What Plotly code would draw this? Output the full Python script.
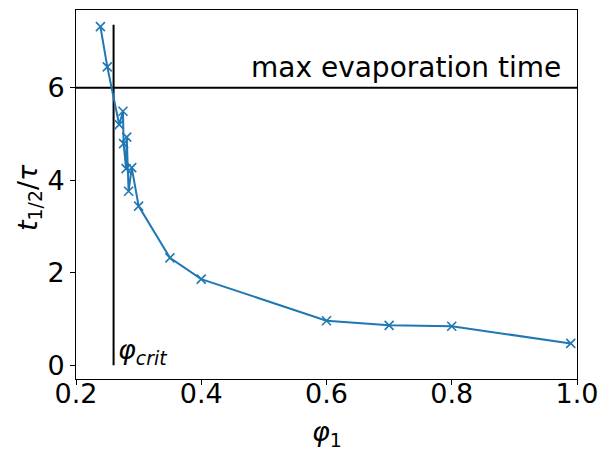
import plotly.graph_objects as go

# data
phi1 = [0.239, 0.250, 0.269, 0.275, 0.276, 0.280, 0.281, 0.284, 0.289, 0.300,
        0.35, 0.40, 0.60, 0.70, 0.80, 0.99]
t_half = [7.32, 6.45, 5.20, 5.49, 4.79, 4.25, 4.93, 3.76, 4.27, 3.44,
          2.32, 1.86, 0.96, 0.86, 0.84, 0.47]
phi_crit = 0.26
crit_line_y = [0.0, 7.36]
max_evap_time = 6.0
x_range = [0.2, 1.0]
y_range = [-0.3, 7.68]
x_ticks = [0.2, 0.4, 0.6, 0.8, 1.0]
x_ticktext = ["0.2", "0.4", "0.6", "0.8", "1.0"]
y_ticks = [0, 2, 4, 6]
y_ticktext = ["0", "2", "4", "6"]

FONT = "DejaVu Sans"
FS = 27

fig = go.Figure()
fig.add_trace(go.Scatter(x=x_range, y=[max_evap_time, max_evap_time], mode="lines",
                         line=dict(color="black", width=2), showlegend=False, hoverinfo="skip"))
fig.add_trace(go.Scatter(x=[phi_crit, phi_crit], y=crit_line_y, mode="lines",
                         line=dict(color="black", width=2), showlegend=False, hoverinfo="skip"))
fig.add_trace(go.Scatter(x=phi1, y=t_half, mode="lines+markers",
                         line=dict(color="#1f77b4", width=2),
                         marker=dict(symbol="x-thin", size=9, line=dict(color="#1f77b4", width=1.6)),
                         showlegend=False))

fig.add_annotation(x=0.476, y=6.03, xref="x", yref="y", text="max evaporation time",
                   showarrow=False, xanchor="left", yanchor="bottom",
                   font=dict(family=FONT, size=28, color="black"))
fig.add_annotation(x=0.264, y=-0.12, xref="x", yref="y",
                   text="<i>φ</i><sub><i>crit</i></sub>",
                   showarrow=False, xanchor="left", yanchor="bottom",
                   font=dict(family=FONT, size=FS, color="black"))
# axis titles
fig.add_annotation(x=0.5, y=-0.148, xref="paper", yref="paper",
                   text="<i>φ</i><sub>1</sub>", showarrow=False,
                   xanchor="center", yanchor="middle",
                   font=dict(family=FONT, size=FS, color="black"))
fig.add_annotation(x=-0.094, y=0.493, xref="paper", yref="paper",
                   text="<i>t</i><sub>1/2</sub>/<i>τ</i>", showarrow=False, textangle=-90,
                   xanchor="center", yanchor="middle",
                   font=dict(family=FONT, size=FS, color="black"))

axis_common = dict(showgrid=False, zeroline=False, showline=True, linecolor="black",
                   linewidth=1, mirror=True, ticks="outside", ticklen=5, tickwidth=1,
                   tickcolor="black", automargin=False,
                   tickfont=dict(family=FONT, size=FS, color="black"))

fig.update_xaxes(range=x_range, tickvals=x_ticks, ticktext=x_ticktext,
                 ticklabelstandoff=-14, **axis_common)
fig.update_yaxes(range=y_range, tickvals=y_ticks, ticktext=y_ticktext, **axis_common)

fig.update_layout(width=600, height=454, margin=dict(l=76, r=23, t=10, b=75),
                  plot_bgcolor="white", paper_bgcolor="white",
                  font=dict(family=FONT, size=FS, color="black"))

fig.write_html("out.html")
